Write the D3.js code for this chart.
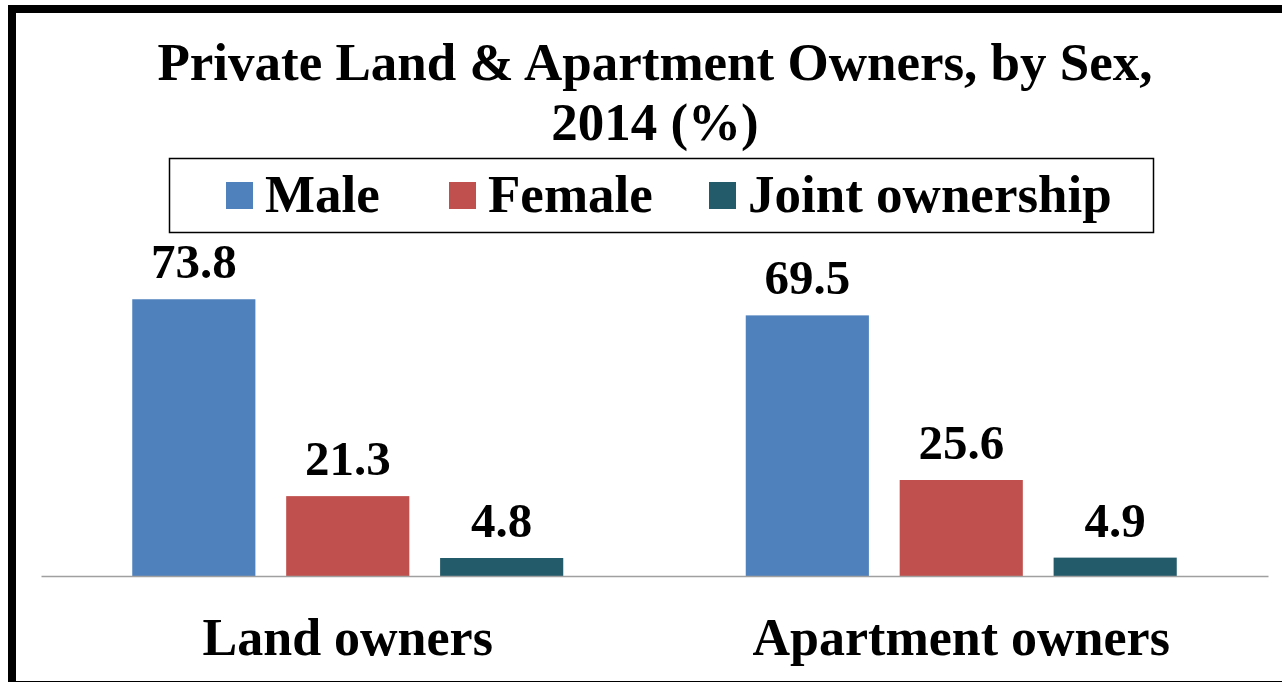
<!DOCTYPE html>
<html>
<head>
<meta charset="utf-8">
<script src="https://cdn.jsdelivr.net/npm/d3@7"></script>
<style>
  body { margin: 0; background: #fff; }
  svg { display: block; }
  text { font-family: "Liberation Serif", "Times New Roman", serif; font-weight: bold; fill: #000; }
</style>
</head>
<body>
<div id="chart"></div>
<script>
// data
const categories = ["Land owners", "Apartment owners"];
const seriesNames = ["Male", "Female", "Joint ownership"];
const male = [73.8, 69.5];
const female = [21.3, 25.6];
const joint = [4.8, 4.9];
const colors = ["#4F81BD", "#C0504D", "#235B6A"];

const width = 1282, height = 682;
let svg = d3.select("#chart").append("svg")
    .attr("width", width)
    .attr("height", height);

// outer frame (cut off at the right and bottom edge)
svg.append("rect")
    .attr("x", 12).attr("y", 9)
    .attr("width", 1320).attr("height", 676)
    .attr("fill", "none")
    .attr("stroke", "#000")
    .attr("stroke-width", 8);

// title
let title = svg.append("text")
    .attr("text-anchor", "middle")
    .style("font-size", "53px");
title.append("tspan").attr("x", 655).attr("y", 80).text("Private Land & Apartment Owners, by Sex,");
title.append("tspan").attr("x", 655).attr("y", 140).text("2014 (%)");

// legend
svg.append("rect")
    .attr("x", 169.5).attr("y", 158.5)
    .attr("width", 984).attr("height", 74)
    .attr("fill", "none")
    .attr("stroke", "#000")
    .attr("stroke-width", 1.5);

let legendX = [226, 449, 709];
let legend = svg.selectAll("g.legend")
    .data(seriesNames)
    .enter()
    .append("g")
    .attr("class", "legend")
    .attr("transform", (d, i) => `translate(${legendX[i]},0)`);
legend.append("rect")
    .attr("x", 0).attr("y", 182)
    .attr("width", 27).attr("height", 27)
    .attr("fill", (d, i) => colors[i]);
legend.append("text")
    .attr("x", 39).attr("y", 212)
    .style("font-size", "53px")
    .text(d => d);

// scales
let x0 = d3.scaleBand().domain(categories).range([41, 1268]);
let x1 = d3.scaleBand().domain(seriesNames).range([0, 431]).paddingInner(0.2);
let y = d3.scaleLinear().domain([0, 80]).range([576, 276]);

let rows = [];
categories.forEach((c, i) => {
    [male, female, joint].forEach((s, j) => {
        rows.push({cat: c, series: seriesNames[j], value: s[i], color: colors[j]});
    });
});

let groupOffset = (x0.bandwidth() - 431) / 2;

svg.selectAll("rect.bar")
    .data(rows)
    .enter()
    .append("rect")
    .attr("class", "bar")
    .attr("x", d => x0(d.cat) + groupOffset + x1(d.series))
    .attr("y", d => y(d.value))
    .attr("width", x1.bandwidth())
    .attr("height", d => y(0) - y(d.value))
    .attr("fill", d => d.color);

svg.selectAll("text.value")
    .data(rows)
    .enter()
    .append("text")
    .attr("class", "value")
    .attr("text-anchor", "middle")
    .attr("x", d => x0(d.cat) + groupOffset + x1(d.series) + x1.bandwidth() / 2)
    .attr("y", d => y(d.value) - 21)
    .style("font-size", "49px")
    .text(d => d.value.toFixed(1));

// category axis
let xAxis = d3.axisBottom(x0).tickSize(0).tickPadding(42);
let axisG = svg.append("g")
    .attr("transform", `translate(0,${y(0)})`)
    .call(xAxis);
axisG.select(".domain").attr("stroke", "#A0A0A0").attr("stroke-width", 1.5);
axisG.selectAll("text")
    .attr("fill", "#000")
    .style("font-size", "52px")
    .style("font-family", '"Liberation Serif", "Times New Roman", serif')
    .style("font-weight", "bold");
</script>
</body>
</html>
